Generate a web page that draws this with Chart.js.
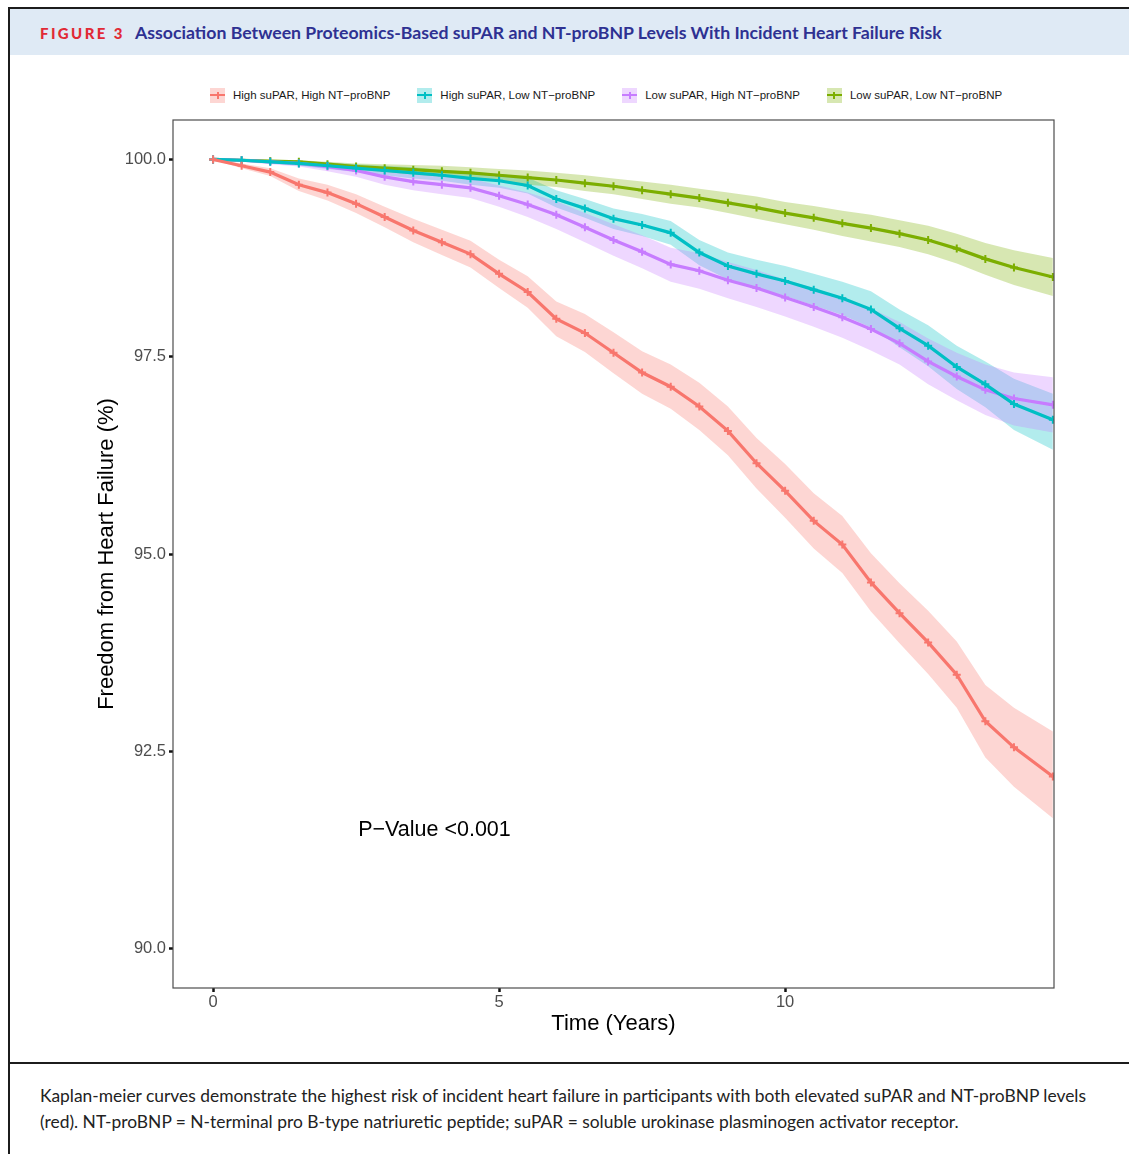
<!DOCTYPE html>
<html>
<head>
<meta charset="utf-8">
<title>Figure 3</title>
<script src="https://cdn.jsdelivr.net/npm/chart.js@4.4.1/dist/chart.umd.min.js"></script>
<style>
  html, body { margin: 0; padding: 0; background: #fff; }
  #page { position: relative; width: 1129px; height: 1154px; overflow: hidden; font-family: Lato, "Noto Sans", sans-serif; }
  .rule { position: absolute; background: #1c1c1c; }
  #head { position: absolute; left: 10px; right: 0; top: 9px; height: 46px; background: #dfeaf5; }
  #fig { position: absolute; left: 40px; top: 23px; height: 20px; line-height: 20px; font-weight: 900; font-size: 15px; letter-spacing: 2.4px; color: #e12a36; }
  #title { position: absolute; left: 135px; top: 23px; height: 20px; line-height: 20px; font-weight: bold; font-size: 17.7px; color: #2e3192; white-space: nowrap; }
  #legend { position: absolute; left: 210px; top: 85px; height: 20px; display: flex; align-items: center; font-family: "Liberation Sans", Arial, sans-serif; font-size: 11.5px; color: #1a1a1a; white-space: nowrap; }
  .item { display: flex; align-items: center; margin-right: 27px; }
  .sw { position: relative; width: 15px; height: 15px; margin-right: 8px; }
  .sw .h { position: absolute; left: 0; right: 0; top: 6.5px; height: 2px; }
  .sw .v { position: absolute; left: 6.5px; width: 2px; top: 4px; height: 7px; }
  #chart { position: absolute; left: 0; top: 60px; }
  #caption { position: absolute; left: 40px; top: 1083px; font-size: 17.4px; line-height: 25.5px; color: #222; white-space: nowrap; }
</style>
</head>
<body>
<div id="page">
  <div id="head"></div>
  <div class="rule" style="left:8px; right:0; top:7px; height:2px;"></div>
  <div class="rule" style="left:8px; width:2px; top:7px; bottom:0;"></div>
  <div id="fig">FIGURE 3</div>
  <div id="title">Association Between Proteomics-Based suPAR and NT-proBNP Levels With Incident Heart Failure Risk</div>
  <div id="legend"></div>
  <canvas id="chart" width="1129" height="1000"></canvas>
  <div class="rule" style="left:8px; right:0; top:1062px; height:2px;"></div>
  <div id="caption">
    <div>Kaplan-meier curves demonstrate the highest risk of incident heart failure in participants with both elevated suPAR and NT-proBNP levels</div>
    <div>(red). NT-proBNP = N-terminal pro B-type natriuretic peptide; suPAR = soluble urokinase plasminogen activator receptor.</div>
  </div>
</div>
<script>
// time points (years) where the curves were read
const TIME = [0, 0.5, 1, 1.5, 2, 2.5, 3, 3.5, 4, 4.5, 5, 5.5, 6, 6.5, 7, 7.5, 8, 8.5, 9, 9.5, 10, 10.5, 11, 11.5, 12, 12.5, 13, 13.5, 14, 14.68];

const SERIES_NAMES = ['High suPAR, High NT\u2212proBNP', 'High suPAR, Low NT\u2212proBNP', 'Low suPAR, High NT\u2212proBNP', 'Low suPAR, Low NT\u2212proBNP'];
const SERIES_COLORS = ['#F8766D', '#00BFC4', '#C77CFF', '#7CAE00'];

// High suPAR, High NT-proBNP
const EST_HH = [100, 99.92, 99.84, 99.68, 99.58, 99.44, 99.27, 99.10, 98.95, 98.80, 98.55, 98.32, 97.98, 97.80, 97.55, 97.30, 97.12, 96.87, 96.56, 96.15, 95.80, 95.42, 95.12, 94.64, 94.25, 93.88, 93.47, 92.88, 92.55, 92.18];
const HI_HH = [100, 99.95, 99.89, 99.76, 99.68, 99.56, 99.40, 99.25, 99.11, 98.97, 98.73, 98.52, 98.20, 98.04, 97.81, 97.57, 97.40, 97.17, 96.87, 96.47, 96.14, 95.77, 95.48, 95.01, 94.63, 94.28, 93.89, 93.34, 93.05, 92.75];
const LO_HH = [100, 99.89, 99.79, 99.60, 99.48, 99.32, 99.14, 98.95, 98.79, 98.63, 98.37, 98.12, 97.76, 97.56, 97.29, 97.03, 96.84, 96.57, 96.25, 95.83, 95.46, 95.07, 94.76, 94.27, 93.87, 93.48, 93.05, 92.42, 92.05, 91.65];

// High suPAR, Low NT-proBNP
const EST_HL = [100, 99.99, 99.97, 99.95, 99.92, 99.89, 99.86, 99.83, 99.80, 99.76, 99.73, 99.67, 99.50, 99.38, 99.25, 99.17, 99.07, 98.82, 98.65, 98.55, 98.46, 98.35, 98.24, 98.10, 97.86, 97.64, 97.37, 97.15, 96.90, 96.70];
const HI_HL = [100, 100, 99.99, 99.98, 99.96, 99.94, 99.92, 99.90, 99.87, 99.84, 99.82, 99.77, 99.61, 99.50, 99.38, 99.31, 99.22, 98.98, 98.82, 98.73, 98.65, 98.55, 98.45, 98.33, 98.10, 97.90, 97.64, 97.44, 97.22, 97.03];
const LO_HL = [100, 99.98, 99.95, 99.92, 99.88, 99.84, 99.80, 99.76, 99.73, 99.68, 99.64, 99.57, 99.39, 99.26, 99.12, 99.03, 98.92, 98.66, 98.48, 98.37, 98.27, 98.15, 98.03, 97.87, 97.62, 97.38, 97.09, 96.86, 96.57, 96.32];

// Low suPAR, High NT-proBNP
const EST_LH = [100, 99.99, 99.97, 99.95, 99.91, 99.86, 99.78, 99.72, 99.68, 99.64, 99.54, 99.43, 99.30, 99.14, 98.98, 98.83, 98.67, 98.59, 98.47, 98.37, 98.25, 98.13, 98.00, 97.85, 97.67, 97.44, 97.25, 97.08, 96.97, 96.89];
const HI_LH = [100, 100, 99.99, 99.98, 99.96, 99.93, 99.87, 99.82, 99.79, 99.76, 99.67, 99.58, 99.47, 99.32, 99.18, 99.04, 98.88, 98.81, 98.70, 98.60, 98.48, 98.37, 98.25, 98.11, 97.94, 97.73, 97.55, 97.40, 97.30, 97.24];
const LO_LH = [100, 99.97, 99.94, 99.91, 99.85, 99.78, 99.68, 99.61, 99.56, 99.51, 99.40, 99.27, 99.12, 98.95, 98.78, 98.62, 98.45, 98.36, 98.24, 98.13, 98.01, 97.88, 97.74, 97.58, 97.40, 97.15, 96.95, 96.76, 96.63, 96.54];

// Low suPAR, Low NT-proBNP
const EST_LL = [100, 99.99, 99.98, 99.97, 99.94, 99.91, 99.89, 99.87, 99.85, 99.83, 99.80, 99.77, 99.74, 99.70, 99.66, 99.61, 99.56, 99.51, 99.45, 99.39, 99.32, 99.26, 99.19, 99.13, 99.06, 98.98, 98.87, 98.74, 98.63, 98.51];
const HI_LL = [100, 100, 99.99, 99.99, 99.97, 99.95, 99.94, 99.93, 99.92, 99.90, 99.88, 99.86, 99.83, 99.80, 99.76, 99.72, 99.68, 99.63, 99.58, 99.53, 99.46, 99.41, 99.35, 99.30, 99.23, 99.16, 99.06, 98.94, 98.85, 98.75];
const LO_LL = [100, 99.98, 99.97, 99.95, 99.91, 99.87, 99.84, 99.81, 99.78, 99.76, 99.72, 99.68, 99.65, 99.60, 99.56, 99.50, 99.44, 99.39, 99.32, 99.25, 99.18, 99.11, 99.03, 98.96, 98.89, 98.80, 98.68, 98.54, 98.41, 98.27];

const Y_TICKS = [90, 92.5, 95, 97.5, 100];
const X_TICKS = [0, 5, 10];
const PVALUE_TEXT = 'P\u2212Value <0.001';
const PVALUE_AT = [3.87, 91.5];

const EST = [EST_HH, EST_HL, EST_LH, EST_LL];
const HI = [HI_HH, HI_HL, HI_LH, HI_LL];
const LO = [LO_HH, LO_HL, LO_LH, LO_LL];

function band(hex) {
    const r = parseInt(hex.slice(1, 3), 16), g = parseInt(hex.slice(3, 5), 16), b = parseInt(hex.slice(5, 7), 16);
    return `rgba(${r},${g},${b},0.3)`;
}
const pts = arr => TIME.map((t, i) => ({ x: t, y: arr[i] }));

function buildDatasets() {
    const sets = [];
    // curves on top
    SERIES_NAMES.forEach((name, k) => {
        sets.push({
            label: name,
            data: pts(EST[k]),
            borderColor: SERIES_COLORS[k],
            backgroundColor: SERIES_COLORS[k],
            borderWidth: 3.2,
            pointStyle: 'cross',
            pointRadius: 4,
            pointBorderWidth: 2,
            fill: false,
            order: 0,
        });
    });
    // confidence bands, red at the bottom
    SERIES_NAMES.forEach((name, k) => {
        sets.push({
            label: name + ' upper',
            data: pts(HI[k]),
            borderColor: 'transparent',
            borderWidth: 0,
            pointRadius: 0,
            backgroundColor: band(SERIES_COLORS[k]),
            fill: '+1',
            order: 10 - k,
        });
        sets.push({
            label: name + ' lower',
            data: pts(LO[k]),
            borderColor: 'transparent',
            borderWidth: 0,
            pointRadius: 0,
            fill: false,
            order: 10 - k,
        });
    });
    return sets;
}

function buildLegend() {
    const el = document.getElementById('legend');
    el.innerHTML = SERIES_NAMES.map((name, k) => `
        <div class="item">
            <div class="sw" style="background:${band(SERIES_COLORS[k])}">
                <div class="h" style="background:${SERIES_COLORS[k]}"></div>
                <div class="v" style="background:${SERIES_COLORS[k]}"></div>
            </div>
            <span>${name}</span>
        </div>`).join('');
}

const framePlugin = {
    id: 'frame',
    afterDatasetsDraw(chart) {
        const { ctx, chartArea: a, scales } = chart;
        ctx.save();
        ctx.strokeStyle = '#4d4d4d';
        ctx.lineWidth = 1.2;
        ctx.strokeRect(a.left, a.top, a.right - a.left, a.bottom - a.top);
        ctx.font = '21.5px "Liberation Sans", Arial, sans-serif';
        ctx.fillStyle = '#000';
        ctx.textAlign = 'center';
        ctx.textBaseline = 'middle';
        ctx.fillText(PVALUE_TEXT, scales.x.getPixelForValue(PVALUE_AT[0]), scales.y.getPixelForValue(PVALUE_AT[1]));
        ctx.restore();
    },
};

function initChart() {
    const tickFont = { family: '"Liberation Sans", Arial, sans-serif', size: 16.5 };
    const titleFont = { family: '"Liberation Sans", Arial, sans-serif', size: 22 };
    const gridOpts = { display: true, drawOnChartArea: false, drawTicks: true, tickLength: 4, tickWidth: 2.5, tickColor: '#111' };

    new Chart(document.getElementById('chart'), {
        type: 'line',
        data: { datasets: buildDatasets() },
        plugins: [framePlugin],
        options: {
            responsive: false,
            animation: false,
            layout: { padding: { left: 94, right: 75, top: 60, bottom: 23 } },
            elements: { line: { tension: 0 } },
            plugins: { legend: { display: false }, tooltip: { enabled: false } },
            scales: {
                x: {
                    type: 'linear',
                    min: -0.7,
                    max: 14.7,
                    afterFit: s => { s.height = 49; },
                    afterBuildTicks: s => { s.ticks = X_TICKS.map(v => ({ value: v })); },
                    ticks: { font: tickFont, color: '#4d4d4d', padding: 1, maxRotation: 0, callback: v => String(v) },
                    grid: gridOpts,
                    border: { display: false },
                    title: { display: true, text: 'Time (Years)', font: titleFont, color: '#000', padding: 0 },
                },
                y: {
                    type: 'linear',
                    min: 89.5,
                    max: 100.5,
                    afterFit: s => { s.width = 79; },
                    afterBuildTicks: s => { s.ticks = Y_TICKS.map(v => ({ value: v })); },
                    ticks: { font: tickFont, color: '#4d4d4d', padding: 3, callback: v => v.toFixed(1) },
                    grid: gridOpts,
                    border: { display: false },
                    title: { display: true, text: 'Freedom from Heart Failure (%)', font: titleFont, color: '#000', padding: 0 },
                },
            },
        },
    });
}

document.addEventListener('DOMContentLoaded', () => {
    buildLegend();
    initChart();
});
</script>
</body>
</html>
